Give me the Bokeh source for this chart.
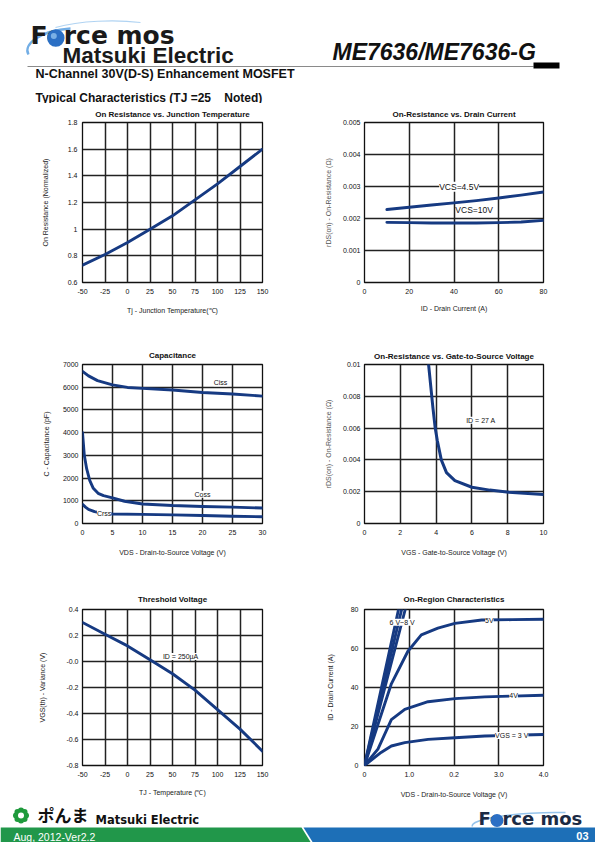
from bokeh.plotting import figure
from bokeh.layouts import column, row
from bokeh.models import FixedTicker, Label, Range1d
from bokeh.embed import file_html
from bokeh.resources import INLINE
import math

FONT = "Liberation Sans"
CURVE = "#163a82"
GRID = "#222222"

# ---------------- data ----------------
# 1: On Resistance vs. Junction Temperature
c1_tj = [-50, -25, 0, 25, 50, 75, 100, 125, 150]
c1_ron = [0.73, 0.81, 0.90, 1.00, 1.10, 1.22, 1.34, 1.47, 1.60]
c1_xticks = [-50, -25, 0, 25, 50, 75, 100, 125, 150]
c1_xlabels = ["-50", "-25", "0", "25", "50", "75", "100", "125", "150"]
c1_yticks = [0.6, 0.8, 1.0, 1.2, 1.4, 1.6, 1.8]
c1_ylabels = ["0.6", "0.8", "1", "1.2", "1.4", "1.6", "1.8"]

# 2: On-Resistance vs. Drain Current
c2_id = [10, 20, 30, 40, 50, 60, 70, 80]
c2_ron_45 = [0.00228, 0.00235, 0.00242, 0.00249, 0.00256, 0.00264, 0.00273, 0.00283]
c2_ron_10 = [0.00188, 0.00187, 0.00186, 0.00186, 0.00186, 0.00187, 0.00189, 0.00194]
c2_xticks = [0, 20, 40, 60, 80]
c2_xlabels = ["0", "20", "40", "60", "80"]
c2_yticks = [0, 0.001, 0.002, 0.003, 0.004, 0.005]
c2_ylabels = ["0", "0.001", "0.002", "0.003", "0.004", "0.005"]

# 3: Capacitance
c3_vds_ciss = [0, 1, 2.5, 5, 7.5, 10, 15, 20, 25, 30]
c3_ciss = [6700, 6500, 6290, 6100, 5990, 5950, 5875, 5770, 5700, 5610]
c3_vds_coss = [0, 0.3, 0.7, 1.2, 1.8, 2.6, 3.5, 5, 7, 10, 15, 20, 25, 30]
c3_coss = [4000, 3000, 2400, 1900, 1550, 1330, 1230, 1130, 980, 860, 790, 750, 720, 680]
c3_vds_crss = [0, 0.5, 1, 2, 3, 5, 10, 15, 20, 25, 30]
c3_crss = [843, 720, 620, 520, 470, 420, 400, 380, 350, 320, 297]
c3_xticks = [0, 5, 10, 15, 20, 25, 30]
c3_xlabels = ["0", "5", "10", "15", "20", "25", "30"]
c3_yticks = [0, 1000, 2000, 3000, 4000, 5000, 6000, 7000]
c3_ylabels = ["0", "1000", "2000", "3000", "4000", "5000", "6000", "7000"]

# 4: On-Resistance vs. Gate-to-Source Voltage
c4_vgs = [3.58, 3.82, 3.95, 4.07, 4.29, 4.58, 5.05, 6.0, 7.0, 8.06, 10.0]
c4_ron = [0.0100, 0.0073, 0.0060, 0.0052, 0.0040, 0.0032, 0.0027, 0.00228, 0.0021, 0.00197, 0.00182]
c4_xticks = [0, 2, 4, 6, 8, 10]
c4_xlabels = ["0", "2", "4", "6", "8", "10"]
c4_yticks = [0, 0.002, 0.004, 0.006, 0.008, 0.01]
c4_ylabels = ["0", "0.002", "0.004", "0.006", "0.008", "0.01"]

# 5: Threshold Voltage
c5_tj = [-50, -25, 0, 25, 50, 75, 100, 125, 150]
c5_vth = [0.30, 0.21, 0.12, 0.013, -0.094, -0.22, -0.37, -0.52, -0.69]
c5_xticks = [-50, -25, 0, 25, 50, 75, 100, 125, 150]
c5_xlabels = ["-50", "-25", "0", "25", "50", "75", "100", "125", "150"]
c5_yticks = [-0.8, -0.6, -0.4, -0.2, 0.0, 0.2, 0.4]
c5_ylabels = ["-0.8", "-0.6", "-0.4", "-0.2", "-0.0", "0.2", "0.4"]

# 6: On-Region Characteristics
c6_vds_3v = [0, 0.37, 0.6, 0.9, 1.42, 2.02, 2.69, 3.3, 4.0]
c6_id_3v = [0, 6.7, 10.0, 11.7, 13.4, 14.2, 15.1, 15.5, 15.9]
c6_vds_4v = [0, 0.3, 0.6, 0.9, 1.42, 2.02, 2.69, 3.3, 4.0]
c6_id_4v = [0, 8.4, 23.5, 28.8, 32.7, 34.3, 35.2, 35.6, 36.0]
c6_vds_5v = [0, 0.3, 0.6, 0.97, 1.27, 1.64, 2.02, 2.62, 3.3, 4.0]
c6_id_5v = [0, 21, 41.9, 58.6, 67, 70.4, 72.9, 74.6, 74.8, 75]
c6_vds_6v = [0, 0.91]
c6_id_6v = [0, 80]
c6_vds_7v = [0, 0.83]
c6_id_7v = [0, 80]
c6_vds_8v = [0, 0.76]
c6_id_8v = [0, 80]
c6_xticks = [0, 1, 2, 3, 4]
c6_xlabels = ["0", "1.0", "0.2", "3.0", "4.0"]
c6_yticks = [0, 20, 40, 60, 80]
c6_ylabels = ["0", "20", "40", "60", "80"]


# ---------------- helpers ----------------
def make_chart(title, xr, yr, fw, fh, bl, br, bt, bb, tstand):
    p = figure(width=bl + fw + br, height=bt + fh + bb,
               x_range=Range1d(*xr), y_range=Range1d(*yr),
               min_border_left=bl, min_border_right=br,
               min_border_top=bt, min_border_bottom=bb,
               output_backend="svg", toolbar_location=None, title=title)
    p.title.align = "center"
    p.title.text_font = FONT
    p.title.text_font_size = "8px"
    p.title.text_font_style = "bold"
    p.title.text_color = "#111111"
    p.title.standoff = tstand
    p.background_fill_color = "white"
    p.border_fill_color = "white"
    p.outline_line_color = "#111111"
    p.outline_line_width = 1.3
    p.grid.grid_line_color = GRID
    p.grid.grid_line_width = 1.5
    return p


def style_axes(p, xt, xtl, yt, ytl, xlabel, ylabel, x_so, x_lso, y_so, y_lso, ylab_color="#222222"):
    p.xaxis.ticker = FixedTicker(ticks=xt)
    p.xaxis.major_label_overrides = dict(zip(xt, xtl))
    p.yaxis.ticker = FixedTicker(ticks=yt)
    p.yaxis.major_label_overrides = dict(zip(yt, ytl))
    for ax in (p.xaxis[0], p.yaxis[0]):
        ax.axis_line_color = None
        ax.major_tick_line_color = None
        ax.minor_tick_line_color = None
        ax.major_tick_in = 0
        ax.major_tick_out = 0
        ax.minor_tick_out = 0
        ax.major_label_text_font = FONT
        ax.major_label_text_font_size = "7px"
        ax.major_label_text_color = "#111111"
        ax.axis_label_text_font = FONT
        ax.axis_label_text_font_size = "7px"
        ax.axis_label_text_font_style = "normal"
        ax.axis_label_text_color = "#222222"
    p.xaxis.axis_label = xlabel
    p.yaxis.axis_label = ylabel
    p.yaxis.axis_label_text_color = ylab_color
    p.xaxis.major_label_standoff = x_so
    p.xaxis.axis_label_standoff = x_lso
    p.yaxis.major_label_standoff = y_so
    p.yaxis.axis_label_standoff = y_lso


def curve(p, x, y, w=2.9):
    p.line(x, y, line_width=w, line_color=CURVE, line_join="round", line_cap="round")


def tag(p, x, y, text, size="7px", bg=True):
    lab = Label(x=x, y=y, text=text, text_font=FONT, text_font_size=size,
                text_align="center", text_baseline="middle", text_color="#111111",
                background_fill_color="white" if bg else None)
    p.add_layout(lab)


def blank(width, height, xr, yr):
    f = figure(width=width, height=height, x_range=Range1d(*xr), y_range=Range1d(*yr),
               output_backend="svg", toolbar_location=None,
               min_border_left=0, min_border_right=0, min_border_top=0, min_border_bottom=0)
    f.axis.visible = False
    f.grid.visible = False
    f.outline_line_color = None
    f.background_fill_color = "white"
    f.border_fill_color = "white"
    return f


def text(f, x, y, t, font=FONT, size="12px", style="bold", color="#111111", align="left"):
    f.add_layout(Label(x=x, y=y, text=t, text_font=font, text_font_size=size,
                       text_font_style=style, text_baseline="middle", text_align=align,
                       text_color=color))


# ---------------- header ----------------
hdr = blank(595, 103, (0, 595), (103, 0))
hdr.bezier(x0=[28], y0=[54], x1=[70], y1=[28], cx0=[22], cy0=[44], cx1=[40], cy1=[30],
           line_color="#5aa0e0", line_width=2.4, line_alpha=0.85)
hdr.bezier(x0=[55], y0=[27], x1=[140], y1=[22], cx0=[80], cy0=[20], cx1=[115], cy1=[19],
           line_color="#9cc8ef", line_width=1.2, line_alpha=0.8)
text(hdr, 30, 34.5, "Force mos", font="DejaVu Sans", size="25px", color="#1a1a1a")
text(hdr, 62, 54.5, "Matsuki Electric", size="22.5px", color="#1a1a1a")
hdr.line(x=[27, 533], y=[66, 66], line_color="#8a8a8a", line_width=1)
hdr.quad(left=[533], right=[559], top=[62], bottom=[68], fill_color="black", line_color=None)
text(hdr, 332, 51, "ME7636/ME7636-G", size="23px", style="bold italic")
text(hdr, 35, 73, "N-Channel 30V(D-S) Enhancement MOSFET", size="12.5px")
text(hdr, 35, 97, "Typical Characteristics (TJ =25\u00a0\u00a0\u00a0 Noted)", size="12px")
# blue ball on the "o" (drawn above the text)
hdr.scatter(x=[55.3], y=[37.5], size=17.5, marker="circle", fill_color="#2b6fc4",
            line_color=None, level="overlay")
hdr.scatter(x=[53.3], y=[35.5], size=6, marker="circle", fill_color="#8fc0ee",
            line_color=None, fill_alpha=0.8, level="overlay")

# ---------------- row 1 ----------------
p1 = make_chart("On Resistance vs. Junction Temperature", (-50, 150), (0.6, 1.8), 180, 161, 82, 38, 18, 48, 8)
style_axes(p1, c1_xticks, c1_xlabels, c1_yticks, c1_ylabels,
           "Tj - Junction Temperature(\u2103)", "On Resistance (Normalized)", 6, 10, 5, 16)
curve(p1, c1_tj, c1_ron)

p2 = make_chart("On-Resistance vs. Drain Current", (0, 80), (0, 0.005), 179, 161, 64, 52, 18, 48, 8)
style_axes(p2, c2_xticks, c2_xlabels, c2_yticks, c2_ylabels,
           "ID - Drain Current (A)", "rDS(on) - On-Resistance (\u03a9)", 6, 8, 4, 8, "#555555")
curve(p2, c2_id, c2_ron_45)
curve(p2, c2_id, c2_ron_10)
tag(p2, 42.3, 0.00299, "VCS=4.5V", "8.5px")
tag(p2, 49, 0.00227, "VCS=10V", "8.5px", bg=False)

# ---------------- row 2 ----------------
p3 = make_chart("Capacitance", (0, 30), (0, 7000), 180, 159, 82, 38, 34, 52, 9)
style_axes(p3, c3_xticks, c3_xlabels, c3_yticks, c3_ylabels,
           "VDS - Drain-to-Source Voltage (V)", "C - Capacitance (pF)", 6, 11, 4, 10)
curve(p3, c3_vds_ciss, c3_ciss)
curve(p3, c3_vds_coss, c3_coss)
curve(p3, c3_vds_crss, c3_crss)
tag(p3, 23, 6200, "Ciss")
tag(p3, 20, 1290, "Coss")
tag(p3, 3.6, 440, "Crss")

p4 = make_chart("On-Resistance vs. Gate-to-Source Voltage", (0, 10), (0, 0.01), 179, 159, 64, 52, 34, 52, 8)
style_axes(p4, c4_xticks, c4_xlabels, c4_yticks, c4_ylabels,
           "VGS - Gate-to-Source Voltage (V)", "rDS(on) - On-Resistance (\u03a9)", 6, 11, 4, 8, "#555555")
curve(p4, c4_vgs, c4_ron, 3.0)
tag(p4, 6.5, 0.0065, "ID = 27 A")

# ---------------- row 3 ----------------
p5 = make_chart("Threshold Voltage", (-50, 150), (-0.8, 0.4), 180, 159, 82, 38, 34, 32, 12)
style_axes(p5, c5_xticks, c5_xlabels, c5_yticks, c5_ylabels,
           "TJ - Temperature (\u2103)", "VGS(th) - Variance (V)", 6, 9, 4, 17)
curve(p5, c5_tj, c5_vth)
tag(p5, 59, 0.038, "ID = 250\u00b5A")

p6 = make_chart("On-Region Characteristics", (0, 4), (0, 80), 179, 159, 64, 52, 34, 32, 11)
style_axes(p6, c6_xticks, c6_xlabels, c6_yticks, c6_ylabels,
           "VDS - Drain-to-Source Voltage (V)", "ID - Drain Current (A)", 6, 11, 6, 14)
curve(p6, c6_vds_3v, c6_id_3v)
curve(p6, c6_vds_4v, c6_id_4v)
curve(p6, c6_vds_5v, c6_id_5v)
curve(p6, c6_vds_6v, c6_id_6v)
curve(p6, c6_vds_7v, c6_id_7v)
curve(p6, c6_vds_8v, c6_id_8v)
tag(p6, 0.84, 73.4, "6 V~8 V")
tag(p6, 2.79, 74.6, "5V")
tag(p6, 3.33, 35.8, "4V")
tag(p6, 3.29, 15.4, "VGS = 3 V")

# ---------------- footer ----------------
ftr = blank(595, 42, (0, 595), (842, 800))
ftr.patch(x=[0, 301, 311, 0], y=[827, 827, 843, 843], fill_color="#21974a", line_color=None)
ftr.patch(x=[303, 600, 600, 313], y=[827, 827, 843, 843], fill_color="#1d6fb7", line_color=None)
text(ftr, 13, 836.5, "Aug, 2012-Ver2.2", size="10.5px", style="normal", color="white")
text(ftr, 588, 835.5, "03", size="11px", color="white", align="right")
# flower mark
ang = [i * math.pi / 4 for i in range(8)]
ftr.scatter(x=[20.5 + 5 * math.cos(a) for a in ang], y=[815 + 5 * math.sin(a) for a in ang],
            size=6, marker="circle", fill_color="#1f9a3c", line_color=None)
ftr.scatter(x=[20.5], y=[815], size=6, marker="circle", fill_color="white", line_color=None)
text(ftr, 37, 814, "ポんま", font="Noto Sans CJK JP", size="17px")
text(ftr, 95, 819, "Matsuki Electric", font="DejaVu Sans", size="11.5px")
ftr.bezier(x0=[472], y0=[826], x1=[565], y1=[812], cx0=[468], cy0=[819], cx1=[515], cy1=[811],
           line_color="#7ab4e6", line_width=1.5, line_alpha=0.8)
text(ftr, 478, 817.5, "Force mos", font="DejaVu Sans", size="18px", color="#1b2a44")
ftr.scatter(x=[496.5], y=[820], size=13, marker="circle", fill_color="#2b6fc4",
            line_color=None, level="overlay")

root = column(hdr, row(p1, p2), row(p3, p4), row(p5, p6), ftr)
open("out.html", "w").write(file_html(root, INLINE, "ME7636"))
